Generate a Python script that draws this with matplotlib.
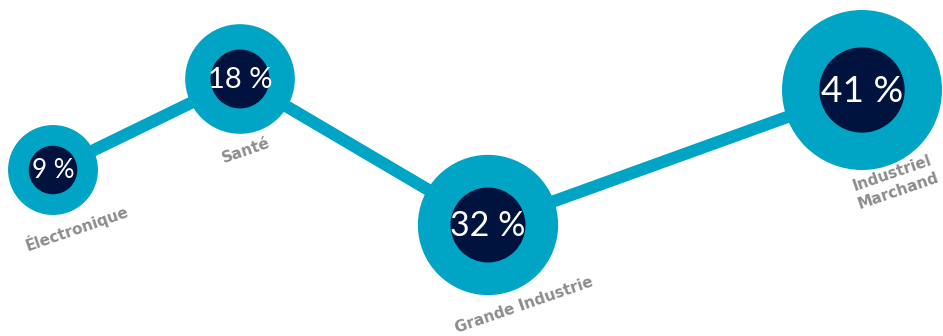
import matplotlib
matplotlib.use("agg")
import matplotlib.pyplot as plt
from matplotlib.patches import Circle

# data
categories = ["Électronique", "Santé", "Grande Industrie", "Industriel\nMarchand"]
shares = [9, 18, 32, 41]

# layout (pixel-like units of the canvas)
x_pos = [53, 240, 488, 862]
y_pos = [170, 79, 225, 90]
label_dx = [24, 6, 36, 33]
label_dy = [14, 17, 11, 13]

TEAL = "#00a5c5"
NAVY = "#00133f"
GREY = "#8c8c8c"

fig = plt.figure(figsize=(9.43, 3.36), dpi=100)
ax = fig.add_axes([0, 0, 1, 1])
ax.set_xlim(0, 943)
ax.set_ylim(336, 0)
ax.set_aspect("equal")
ax.axis("off")

# connecting line
ax.plot(x_pos, y_pos, color=TEAL, linewidth=8.8, solid_capstyle="butt", zorder=1)

for x, y, v, cat, dx, dy in zip(x_pos, y_pos, shares, categories, label_dx, label_dy):
    r_out = 34.4 + 1.095 * v
    r_in = 18.4 + 0.575 * v
    ax.add_patch(Circle((x, y), r_out, color=TEAL, zorder=2))
    ax.add_patch(Circle((x, y), r_in, color=NAVY, zorder=3))
    ax.text(x, y + 1, f"{v} %", color="white", fontsize=16.5 + 0.25 * v,
            family="Lato", ha="center", va="center", zorder=4)
    ax.text(x + dx, y + r_out + dy, cat, color=GREY, fontsize=11,
            fontweight="bold", family="DejaVu Sans", rotation=19,
            rotation_mode="anchor", ha="center", va="center",
            linespacing=1.35, zorder=4)

fig.savefig("out.png", dpi=100)
plt.close(fig)
